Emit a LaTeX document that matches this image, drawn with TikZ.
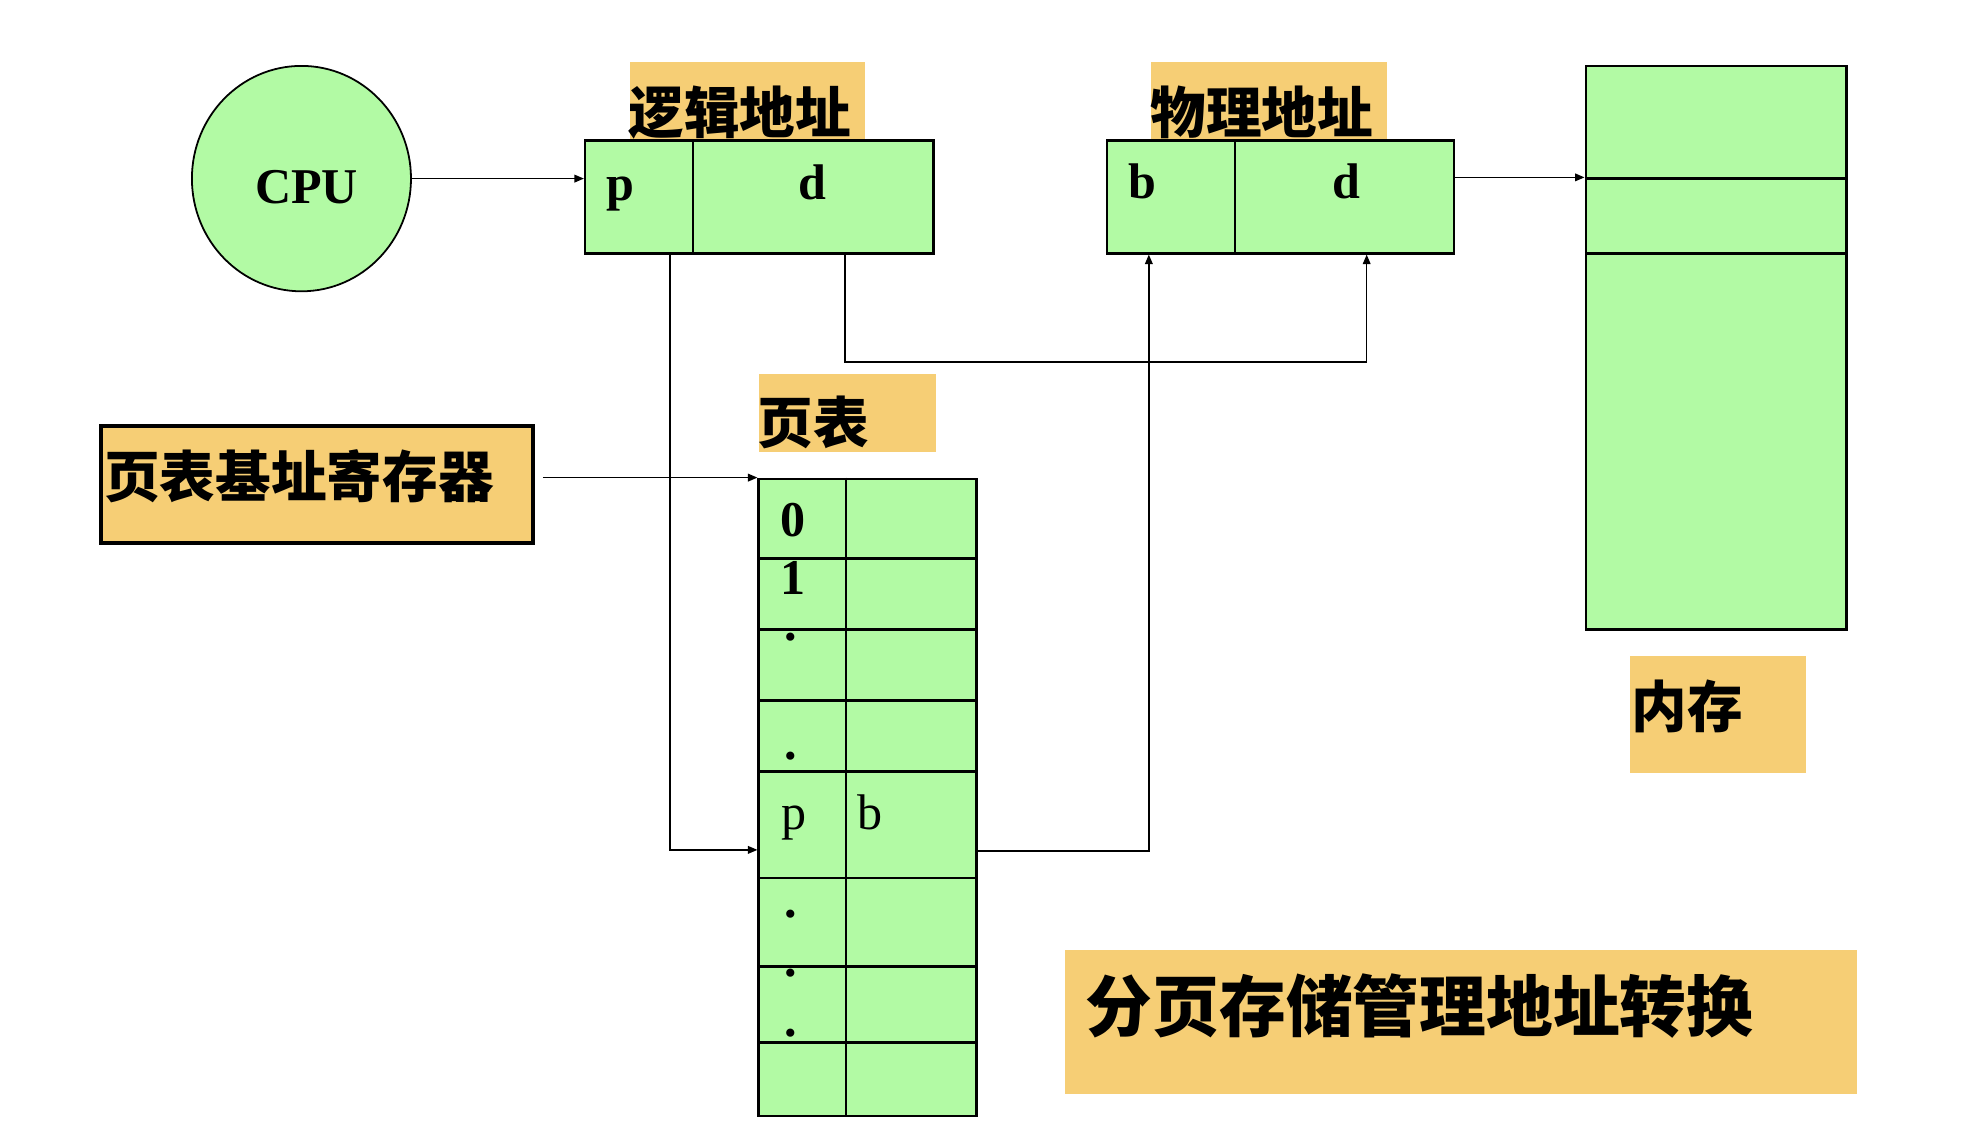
\documentclass[tikz,border=0pt]{standalone}
\usepackage{fontspec}
\setmainfont{Liberation Serif}
\newfontfamily\cjk{Noto Sans CJK SC}
\usetikzlibrary{shapes.geometric,arrows.meta}
\definecolor{memgreen}{RGB}{178,250,164}
\definecolor{tagorange}{RGB}{246,206,117}
\tikzset{
  figlat/.style={inner sep=0pt, anchor=base, font=\fontsize{22.5}{24}\selectfont\bfseries},
  figcell/.style={figlat, font=\fontsize{22.5}{24}\selectfont},
  figcjk/.style={inner sep=0pt, anchor=base west, font=\cjk\fontsize{25}{28}\selectfont\bfseries},
  tagbg/.style={fill=tagorange},
  grn/.style={draw=black, line width=1.1pt, fill=memgreen},
  box/.style={grn, rectangle, inner sep=0pt},
  tabline/.style={line width=1.1pt},
  conn/.style={line width=0.7pt, -{Triangle[length=1.5mm,width=1.2mm]}},
}

\begin{document}
\begin{tikzpicture}[x=0.02cm, y=-0.02cm]
\useasboundingbox (0,0) rectangle (1568,897);
\fill[tagbg] (497,49) rectangle (683,111);
\fill[tagbg] (909,49) rectangle (1095,111);
\fill[tagbg] (599,295) rectangle (739,357);
\fill[tagbg] (1287,518) rectangle (1426,610);
\fill[tagbg] (841,750) rectangle (1466,864);
\node[figcjk] (tlog) at (496,105.5) {逻辑地址};
\node[figcjk] (tphy) at (908,105.5) {物理地址};
\node[figcjk] (ttab) at (598,350) {页表};
\node[figcjk] (tmem) at (1288,574) {内存};
\node[figcjk, font=\cjk\fontsize{30}{34}\selectfont\bfseries] (title) at (857,814) {分页存储管理地址转换};

\node[grn, ellipse, line width=0.8pt, minimum width=3.46cm, minimum height=3.56cm] (cpu) at (238,141) {};
\node[figlat] (tcpu) at (242,160.5) {CPU};

\node[box, minimum width=1.7cm, minimum height=1.78cm] (lp) at (504.5,155.5) {};
\node[box, minimum width=3.8cm, minimum height=1.78cm] (ld) at (642,155.5) {};
\node[figlat] (lpp) at (489.5,158) {p};
\node[figlat] (ldd) at (641.5,157.5) {d};

\node[box, minimum width=2.02cm, minimum height=1.78cm] (pb) at (924.5,155.5) {};
\node[box, minimum width=3.46cm, minimum height=1.78cm] (pd) at (1061.5,155.5) {};
\node[figlat] (pbb) at (902,156.7) {b};
\node[figlat] (pdd) at (1063,157) {d};

\node[box, minimum width=4.12cm, minimum height=1.78cm] (m1) at (1355,96.5) {};
\node[box, minimum width=4.12cm, minimum height=1.18cm] (m2) at (1355,170.5) {};
\node[box, minimum width=4.12cm, minimum height=5.94cm] (m3) at (1355,348.5) {};

\node[rectangle, draw=black, line width=1.8pt, fill=tagorange, inner sep=0pt,
      minimum width=6.82cm, minimum height=1.86cm] (reg) at (250.5,382.5) {};
\node[figcjk] (treg) at (82,392.5) {页表基址寄存器};

\node[box, minimum width=3.44cm, minimum height=10.06cm] (ptab) at (685,629.5) {};
\foreach \r in {441,497,553,609,693,763,823}
  \draw[tabline] (ptab.west |- 0,\r) -- (ptab.east |- 0,\r);
\draw[tabline] (ptab.north -| 668,0) -- (ptab.south -| 668,0);
\node[figlat] (k0) at (626,423.5) {0};
\node[figlat] (k1) at (626,469.5) {1};
\foreach \y [count=\i] in {506,600,724,771,818}
  \node[figlat] (dot\i) at (624,\y) {.};
\node[figcell] (kp) at (627,655) {p};
\node[figcell] (kb) at (687,655) {b};

\coordinate (regout) at ([xshift=0.12cm]reg.east);
\coordinate (pdown) at ([xshift=1.36cm]lp.south west);
\coordinate (ddown) at ([xshift=2.42cm]ld.south west);
\coordinate (dup) at ([xshift=2.1cm]pd.south west);
\coordinate (bup) at ([xshift=0.68cm]pb.south west);

\draw[conn] (cpu.east) -- (cpu.east -| lp.west);
\draw[conn] (pd.east |- m2.north) -- (m2.north west);
\draw[conn] (regout |- ptab.north) -- (ptab.north west);
\draw[conn] (pdown) |- (ptab.west |- 0,671);
\draw[conn] (ddown) |- (dup |- 0,286) -- (dup);
\draw[conn] (ptab.east |- 0,672) -| (bup);
\end{tikzpicture}
\end{document}
